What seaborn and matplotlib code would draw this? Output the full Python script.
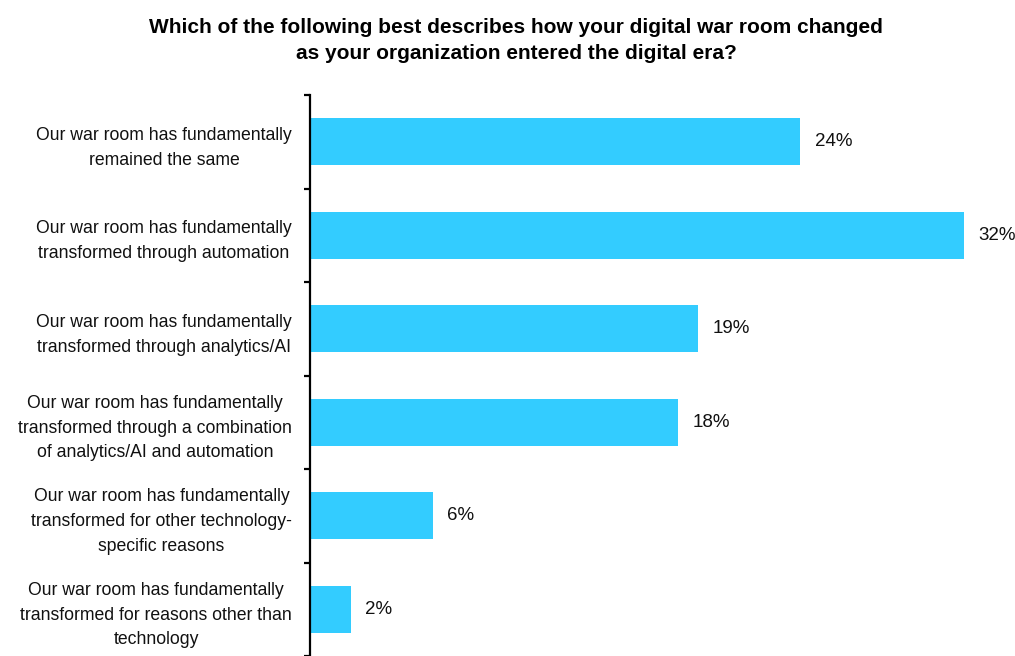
import matplotlib
matplotlib.use("Agg")
import matplotlib.pyplot as plt
import seaborn as sns
import pandas as pd
import numpy as np

categories = [
    "Our war room has fundamentally\nremained the same",
    "Our war room has fundamentally\ntransformed through automation",
    "Our war room has fundamentally\ntransformed through analytics/AI",
    "Our war room has fundamentally\ntransformed through a combination\nof analytics/AI and automation",
    "Our war room has fundamentally\ntransformed for other technology-\nspecific reasons",
    "Our war room has fundamentally\ntransformed for reasons other than\ntechnology",
]
shares = [24, 32, 19, 18, 6, 2]
value_labels = ["24%", "32%", "19%", "18%", "6%", "2%"]
title = ("Which of the following best describes how your digital war room changed\n"
         "as your organization entered the digital era?")

sns.set_theme(style="white")
plt.rcParams["font.family"] = ["Liberation Sans", "DejaVu Sans"]

df = pd.DataFrame({"category": categories, "share": shares})

fig = plt.figure(figsize=(10.15, 6.56), dpi=100)
ax = fig.add_axes([310 / 1015, 0.0, 1 - 310 / 1015 - 0.01, 1 - 95 / 656])

sns.barplot(data=df, x="share", y="category", orient="h", color="#33CCFF",
            saturation=1, width=0.5, ax=ax, edgecolor="none")

ax.set_xlim(0, 34)
ax.set_ylim(len(categories) - 0.5, -0.5)
ax.set_xlabel("")
ax.set_ylabel("")
ax.set_xticks([])

for s in ["top", "right", "bottom"]:
    ax.spines[s].set_visible(False)
ax.spines["left"].set_color("black")
ax.spines["left"].set_linewidth(1.6)

# category labels on major ticks, boundary tick marks on minor ticks
ax.set_yticks(range(len(categories)))
ax.set_yticklabels(categories, fontsize=12.7, multialignment="center",
                   color="#111111", linespacing=1.6)
ax.tick_params(axis="y", which="major", length=0, pad=13)
ax.set_yticks(np.arange(-0.5, len(categories), 1.0), minor=True)
ax.tick_params(axis="y", which="minor", left=True, length=4, width=1.6, color="black")

for i, (v, lab) in enumerate(zip(shares, value_labels)):
    ax.text(v + 0.7, i, lab, va="center", ha="left", fontsize=13.5, color="#111111")

fig.text(516 / 1015, 1 - 18 / 656, title, ha="center", va="top", fontsize=15,
         fontweight="bold", linespacing=1.47, color="black")

fig.savefig("out.png", dpi=100, facecolor="white")
